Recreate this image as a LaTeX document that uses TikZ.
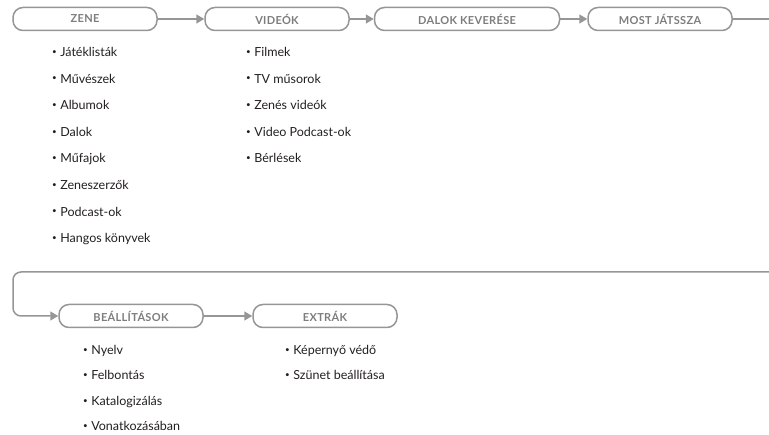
\documentclass[tikz,border=0pt]{standalone}
\usepackage{fontspec}
\setmainfont{Lato}
\newfontfamily\headfont[LetterSpace=3]{Lato}
\usetikzlibrary{arrows.meta}
\definecolor{menugray}{RGB}{150,150,150}
\definecolor{headgray}{RGB}{125,125,125}
\definecolor{itemblack}{RGB}{35,31,32}
\newcommand{\itembullet}{\raisebox{2.2pt}{\fontsize{8}{8}\selectfont•}\hspace{3.5pt}}

\begin{document}
\begin{tikzpicture}[x=1pt,y=-1pt,
    menu/.style={draw=menugray, line width=1.5pt, rounded corners=10pt,
        minimum width=144pt, minimum height=23pt, inner sep=0pt,
        text=headgray, font=\headfont\bfseries\fontsize{11}{13}\selectfont},
    item/.style={anchor=base west, inner sep=0pt, text=itemblack,
        font=\fontsize{12.5}{14}\selectfont},
    link/.style={draw=menugray, line width=1.5pt, -{Triangle[length=8pt,width=9pt]}}]
    \useasboundingbox (0,0) rectangle (769,435);

    % top row
    \node[menu] (zene) at (85,19) {ZENE};
    \node[menu] (videok) at (277,19) {VIDEÓK};
    \node[menu, minimum width=185pt] (keveres) at (467,19) {DALOK KEVERÉSE};
    \node[menu] (most) at (660,19) {MOST JÁTSSZA};
    \coordinate (out) at (769,19);

    \draw[link] (zene) -- (videok);
    \draw[link] (videok) -- (keveres);
    \draw[link] (keveres) -- (most);
    \draw[menugray, line width=1.5pt] (most) -- (out);

    % bottom row
    \node[menu] (beall) at (131,316) {BEÁLLÍTÁSOK};
    \node[menu] (extrak) at (325,316) {EXTRÁK};
    \coordinate (in) at (769,272);
    \coordinate (bend) at (13,272);

    \draw[link, rounded corners=8pt] (in) -- (bend) |- (beall);
    \draw[link] (beall) -- (extrak);

    % lists
    \foreach \t [count=\i] in {Játéklisták, Művészek, Albumok, Dalok, Műfajok,
        Zeneszerzők, Podcast-ok, Hangos könyvek}
        \node[item] (zene-\i) at (52,{56.5+26.6*(\i-1)}) {\itembullet\t};
    \foreach \t [count=\i] in {Filmek, TV műsorok, Zenés videók,
        Video Podcast-ok, Bérlések}
        \node[item] (videok-\i) at (246,{56.5+26.6*(\i-1)}) {\itembullet\t};
    \foreach \t [count=\i] in {Nyelv, Felbontás, Katalogizálás, Vonatkozásában}
        \node[item] (beall-\i) at (83,{354.5+25.5*(\i-1)}) {\itembullet\t};
    \foreach \t [count=\i] in {Képernyő védő, Szünet beállítása}
        \node[item] (extrak-\i) at (285,{354.5+25.5*(\i-1)}) {\itembullet\t};
\end{tikzpicture}
\end{document}
